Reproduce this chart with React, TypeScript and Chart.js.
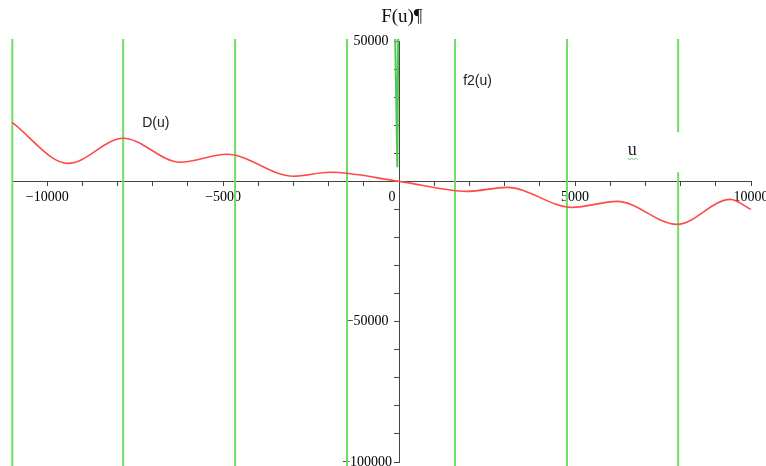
import React, { useEffect, useRef } from "react";
import { Chart, registerables } from "chart.js";

Chart.register(...registerables);

// D(u) — red curve, turning points
const uValues = [-11000, -9400, -7840, -6220, -4890, -3010, -1960, 0, 1930, 3070, 4920, 6200, 7900, 9410, 10000];
const dValues = [21000, 6400, 15350, 6790, 9640, 1790, 3210, 0, -3570, -2140, -9280, -7140, -15350, -6430, -10000];

// f2(u) — green near-vertical branches
const f2SegmentU = [-10990, -7840, -4660, -1480, 1590, 4770, 7930, 7930];
const f2SegmentTop = [50700, 50700, 50700, 50700, 50700, 50700, 50700, 3200];
const f2SegmentBottom = [-102000, -102000, -102000, -102000, -102000, -102000, 17500, -102000];
const f2SpikeU = [-110, -50, -25];
const f2SpikeV = [50700, 5000, 50700];

// axes
const xMin = -11000;
const xMax = 10000;
const yMin = -100000;
const yMax = 50000;
const xLabeledTicks = [-10000, -5000, 0, 5000, 10000];
const xLabelTexts = ["\u221210000", "\u22125000", "0\u2002\u2002", "5000", "10000"];
const yLabeledTicks = [50000, -50000, -100000];
const yLabelTexts = ["50000   ", "\u221250000   ", "\u2212100000  "];

const annotations = [
  { text: "F(u)\u00b6", u: -510, v: 56700, font: '19px "Liberation Serif"', color: "#111", squiggle: false },
  { text: "D(u)", u: -7300, v: 19300, font: '14px "Liberation Sans"', color: "#222", squiggle: false },
  { text: "f2(u)", u: 1820, v: 34300, font: '14px "Liberation Sans"', color: "#222", squiggle: false },
  { text: "u", u: 6500, v: 9300, font: '18px "Liberation Serif"', color: "#222", squiggle: true },
];

const textPlugin = {
  id: "axisTexts",
  afterDraw(chart: any) {
    const ctx = chart.ctx;
    const xs = chart.scales.x;
    const ys = chart.scales.y;
    ctx.save();
    ctx.textBaseline = "alphabetic";
    ctx.textAlign = "left";
    for (const a of annotations) {
      const px = xs.getPixelForValue(a.u);
      const py = ys.getPixelForValue(a.v);
      ctx.font = a.font;
      ctx.fillStyle = a.color;
      ctx.fillText(a.text, px, py);
      if (a.squiggle) {
        const w = ctx.measureText(a.text).width;
        ctx.strokeStyle = "#7cc47c";
        ctx.lineWidth = 1;
        ctx.beginPath();
        let up = true;
        for (let i = 0; i <= Math.ceil(w / 2); i++) {
          const x = px + i * 2;
          const y = py + 3 + (up ? 0 : 1.5);
          if (i === 0) ctx.moveTo(x, y);
          else ctx.lineTo(x, y);
          up = !up;
        }
        ctx.stroke();
      }
    }
    ctx.restore();
  },
};

export default function App() {
  const canvasRef = useRef<HTMLCanvasElement | null>(null);

  useEffect(() => {
    const canvas = canvasRef.current;
    if (!canvas) return;

    const green = "rgb(112, 220, 104)";
    const greenSets: any[] = f2SegmentU.map((u, i) => ({
      label: "f2 " + i,
      data: [
        { x: u, y: f2SegmentTop[i] },
        { x: u, y: f2SegmentBottom[i] },
      ],
      borderColor: green,
      borderWidth: 2,
      pointRadius: 0,
      clip: false,
      order: 2,
    }));
    greenSets.push({
      label: "f2 spike",
      data: f2SpikeU.map((u, i) => ({ x: u, y: f2SpikeV[i] })),
      borderColor: "rgb(80, 200, 80)",
      borderWidth: 2,
      pointRadius: 0,
      clip: false,
      order: 2,
    });

    const xTickValues: number[] = [];
    for (let v = xMin; v <= xMax; v += 1000) xTickValues.push(v);
    const yTickValues: number[] = [];
    for (let v = yMin; v <= yMax; v += 10000) yTickValues.push(v);

    const tickFont = { family: '"Liberation Serif"', size: 14 };

    const chart = new Chart(canvas, {
      type: "line",
      data: {
        datasets: [
          {
            label: "D(u)",
            data: uValues.map((u, i) => ({ x: u, y: dValues[i] })),
            borderColor: "#ff4a4a",
            borderWidth: 1.6,
            pointRadius: 0,
            cubicInterpolationMode: "monotone",
            clip: false,
            order: 1,
          },
          ...greenSets,
        ],
      },
      plugins: [textPlugin],
      options: {
        animation: false,
        responsive: false,
        events: [],
        layout: { padding: { left: 12, right: 15, top: 41, bottom: 4 } },
        plugins: {
          legend: { display: false },
          title: { display: false },
          tooltip: { enabled: false },
        },
        scales: {
          x: {
            type: "linear",
            position: { y: 0 } as any,
            min: xMin,
            max: xMax,
            afterBuildTicks: (scale: any) => {
              scale.ticks = xTickValues.map((v) => ({ value: v }));
            },
            afterFit: (scale: any) => {
              scale.paddingLeft = 0;
              scale.paddingRight = 0;
            },
            grid: {
              drawOnChartArea: false,
              drawTicks: true,
              tickLength: 4,
              tickColor: "#444",
              tickWidth: 1,
            },
            border: { display: true, color: "#444", width: 1 },
            ticks: {
              autoSkip: false,
              maxRotation: 0,
              padding: 4,
              color: "#000",
              font: tickFont,
              callback: (value: any) => {
                const idx = xLabeledTicks.indexOf(Number(value));
                return idx >= 0 ? xLabelTexts[idx] : "";
              },
            },
          },
          y: {
            type: "linear",
            position: { x: 0 } as any,
            min: yMin,
            max: yMax,
            afterBuildTicks: (scale: any) => {
              scale.ticks = yTickValues.map((v) => ({ value: v }));
            },
            afterFit: (scale: any) => {
              scale.paddingTop = 0;
              scale.paddingBottom = 0;
            },
            grid: {
              drawOnChartArea: false,
              drawTicks: true,
              tickLength: 5,
              tickColor: "#444",
              tickWidth: 1,
            },
            border: { display: true, color: "#444", width: 1 },
            ticks: {
              autoSkip: false,
              padding: 6,
              color: "#000",
              font: tickFont,
              callback: (value: any) => {
                const idx = yLabeledTicks.indexOf(Number(value));
                return idx >= 0 ? yLabelTexts[idx] : "";
              },
            },
          },
        },
      } as any,
    });

    return () => chart.destroy();
  }, []);

  return (
    <div style={{ position: "absolute", left: 0, top: 0, width: 766, height: 466, background: "#fff" }}>
      <canvas ref={canvasRef} width={766} height={466} style={{ display: "block" }} />
    </div>
  );
}
